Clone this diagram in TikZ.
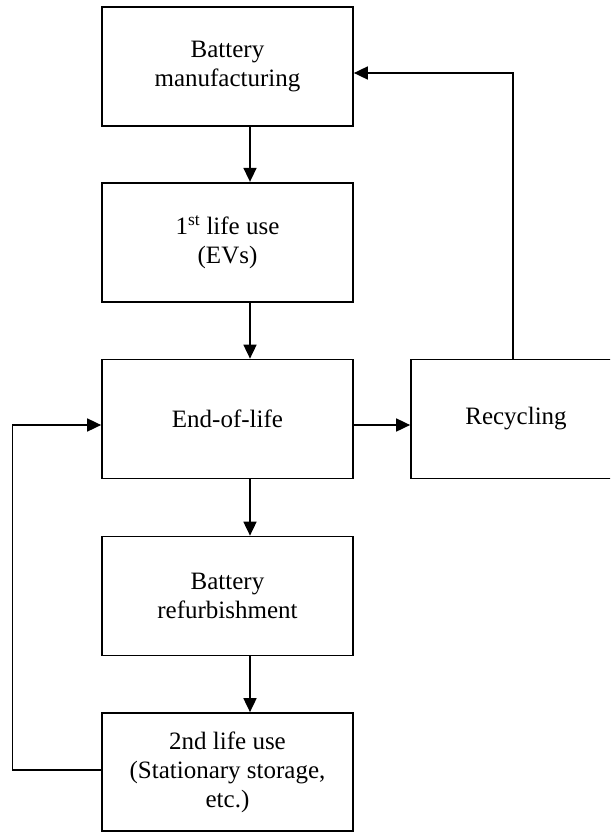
\documentclass[tikz,border=0pt]{standalone}
\usepackage{fontspec}
\setmainfont{Liberation Serif}
\usetikzlibrary{arrows.meta}

\begin{document}
\begin{tikzpicture}[x=1pt,y=1pt,
  stagebox/.style={draw=black, line width=1.7pt, fill=white, align=center,
    minimum width=251pt, minimum height=119pt, inner sep=0pt,
    font=\fontsize{25}{29}\selectfont},
  flow/.style={line width=1.7pt, -{Triangle[length=14pt,width=13pt]}}
]
% page frame; the recycling box runs past the right edge
\clip (0,0) rectangle (610,-832);
\fill[white] (0,0) rectangle (610,-832);

% stages of the battery life cycle
\node[stagebox] (mfg)    at (227.5,-66.3)  {Battery\\manufacturing};
\node[stagebox] (first)  at (227.5,-242.2) {1\textsuperscript{st} life use\\(EVs)};
\node[stagebox] (eol)    at (227.5,-419)   {End-of-life};
\node[stagebox] (refurb) at (227.5,-596)   {Battery\\refurbishment};
\node[stagebox, minimum height=118pt] (second) at (227.5,-772) {2nd life use\\(Stationary storage,\\etc.)};
\node[stagebox, minimum width=210pt] (recyc) at (516,-419) {};
\node[font=\fontsize{25}{29}\selectfont] (recyclbl) at (recyc.center) {Recycling};

% routing points for the connectors
\coordinate (down)  at (250,0);
\coordinate (mid)   at (0,-425);
\coordinate (rtop)  at (513,-73);
\coordinate (lbot)  at (12.5,-770);
\coordinate (ltop)  at (12.5,-425);

% main downward flow
\draw[flow] (mfg.south -| down)    -- (first.north -| down);
\draw[flow] (first.south -| down)  -- (eol.north -| down);
\draw[flow] (eol.south -| down)    -- (refurb.north -| down);
\draw[flow] (refurb.south -| down) -- (second.north -| down);

% end-of-life to recycling, and recycling back to manufacturing
\draw[flow] (eol.east |- mid) -- (recyc.west |- mid);
\draw[flow] (recyc.north -| rtop) -- (rtop) -- (mfg.east |- rtop);

% second-life loop back to end-of-life
\draw[flow] (second.west |- lbot) -- (lbot) -- (ltop) -- (eol.west |- ltop);
\end{tikzpicture}
\end{document}
